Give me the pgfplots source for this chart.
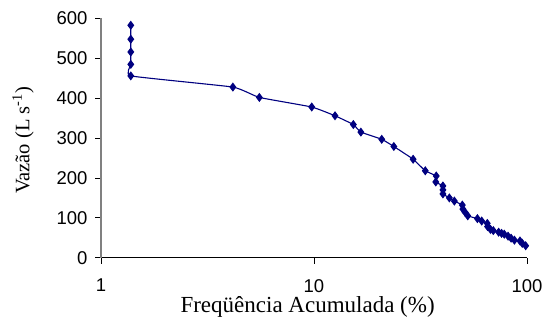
\documentclass[border=0pt]{standalone}
\usepackage{pgfplots}
\pgfplotsset{compat=1.18}
\usepackage{fontspec}
\setmainfont{Liberation Sans}
\newfontfamily\timesf{Liberation Serif}
\definecolor{navy}{RGB}{0,0,128}
\begin{document}
\begin{tikzpicture}
\useasboundingbox (-101bp,-64.3bp) rectangle (445bp,257.7bp);
\begin{axis}[
  at={(0,0)}, anchor=south west,
  scale only axis, width=426bp, height=239.2bp,
  xmode=log, xmin=1, xmax=100, ymin=0, ymax=600,
  axis x line*=bottom, axis y line*=left,
  x axis line style={black, line width=0.8bp},
  y axis line style={gray, line width=1.2bp},
  xtick={1,10,100}, xticklabels={1,10,100},
  ytick={0,100,...,600},
  xminorticks=false,
  tick align=outside, major tick length=6bp,
  tick style={black, line width=0.8bp},
  /pgf/number format/assume math mode=true,
  ticklabel style={font=\fontsize{18.5bp}{20bp}\selectfont},
  xticklabel style={anchor=north, yshift=-12bp},
  yticklabel style={xshift=-4bp},
  xlabel={Freqüência Acumulada (\%)},
  ylabel={Vazão (L s\textsuperscript{-1})},
  xlabel style={font=\timesf\fontsize{23bp}{26bp}\selectfont, at={(rel axis cs:0.485,0)}, anchor=base, yshift=-55bp},
  ylabel style={font=\timesf\fontsize{20.5bp}{23bp}\selectfont, at={(rel axis cs:0,0.49)}, anchor=center, rotate=0, yshift=78bp},
  clip=false,
]
\addplot[navy, line width=1.1bp, smooth, tension=0.22, mark=diamond*, mark size=3.7bp, mark options={solid, fill=navy}] table {
x y
1.38 583
1.38 548
1.38 516
1.38 485
1.38 456
4.16 428
5.54 402
9.76 378
12.55 356
15.3 334
16.6 315
20.8 297
23.7 279
29.2 247
33.3 218
37.5 205
37.3 190
40.3 180
40.3 170
40.3 160
43.2 150
45.6 142
49.7 132
50.0 122
51.2 114
52.7 105
58.5 98
61.3 92
65.1 86
65.3 78
67.4 71
69.5 68
73.6 64
76.0 61
78.2 59
81.5 54
84.2 49
87.3 44
92.7 42
95.0 36
98.6 30
};
\end{axis}
\end{tikzpicture}
\end{document}
